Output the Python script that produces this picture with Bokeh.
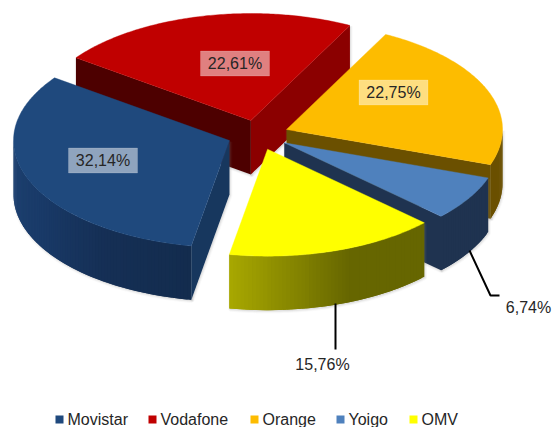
import math
from bokeh.plotting import figure
from bokeh.models import Range1d
from bokeh.core.properties import value
from bokeh.embed import file_html
from bokeh.resources import INLINE

# ---- data ----
operators = ["Movistar", "Vodafone", "Orange", "Yoigo", "OMV"]
shares = [32.14, 22.61, 22.75, 6.74, 15.76]
share_labels = ["32,14%", "22,61%", "22,75%", "6,74%", "15,76%"]

# ---- styles ----
FONT = value("Liberation Sans")
TEXT = "#262626"
top_colors = ["#1f497d", "#c00000", "#fdbc00", "#4f81bd", "#ffff00"]
# colour of radial faces
start_wall = ["#17375e", "#4d0000", None, None, None]
end_wall = [None, "#8b0000", "#6b5000", "#1f3350", None]
# outer wall shading: list of (angle, colour) stops
outer_stops = [
    [(190, "#132c4e"), (215, "#152f55"), (240, "#193a68"), (270, "#1e4272")],
    [(0, "#8b0000"), (360, "#8b0000")],
    [(0, "#6b5000"), (360, "#6b5000")],
    [(0, "#1f3350"), (360, "#1f3350")],
    [(133, "#666600"), (158, "#666600"), (190, "#a8a800")],
]

# ---- pie geometry (page pixels) ----
CX, CY = 257.5, 134.5
RX, RY = 216.0, 107.0
EX, EY = 30.7, 14.9
DEPTH = 54.0
FIRST_ANGLE = 190.2
DRAW_ORDER = [1, 2, 3, 4, 0]

W, H = 553, 427
p = figure(width=W, height=H, output_backend="svg", toolbar_location=None,
           x_range=Range1d(0, W), y_range=Range1d(H, 0),
           x_axis_type=None, y_axis_type=None, min_border=0,
           background_fill_color="white", border_fill_color="white")
p.outline_line_color = None
p.grid.visible = False


def hexrgb(c):
    return [int(c[i:i + 2], 16) for i in (1, 3, 5)]


def shade(stops, a):
    if a <= stops[0][0]:
        return stops[0][1]
    for (a0, c0), (a1, c1) in zip(stops, stops[1:]):
        if a <= a1:
            t = (a - a0) / (a1 - a0)
            r = [round(u + (v - u) * t) for u, v in zip(hexrgb(c0), hexrgb(c1))]
            return "#%02x%02x%02x" % tuple(r)
    return stops[-1][1]


def shadow(xs, ys):
    for w, al in ((4.0, 0.05), (2.0, 0.09)):
        p.patch([x + 0.8 for x in xs], [y + 1.2 for y in ys], fill_color="#808080",
                fill_alpha=al, line_color="#808080", line_alpha=al, line_width=w)


def draw_slice(i, a0, a1):
    mid = math.radians((a0 + a1) / 2)
    ax = CX + EX * math.sin(mid)
    ay = CY - EY * math.cos(mid)

    def rim(a):
        t = math.radians(a)
        return ax + RX * math.sin(t), ay - RY * math.cos(t)

    n = max(4, int((a1 - a0) * 1.5))
    angles = [a0 + (a1 - a0) * k / n for k in range(n + 1)]
    rim_pts = [rim(a) for a in angles]

    walls = []
    sx, sy = rim(a0)
    ex, ey = rim(a1)
    if start_wall[i]:
        walls.append(([ax, sx, sx, ax], [ay, sy, sy + DEPTH, ay + DEPTH], start_wall[i]))
    if end_wall[i]:
        walls.append(([ax, ex, ex, ax], [ay, ey, ey + DEPTH, ay + DEPTH], end_wall[i]))

    # outer wall: front half only (90 to 270 degrees)
    lo, hi = max(a0, 90.0), min(a1, 270.0)
    strips = []
    if hi > lo:
        m = max(2, int(hi - lo))
        cuts = [lo + (hi - lo) * k / m for k in range(m + 1)]
        top = [rim(c) for c in cuts]
        shadow([q[0] for q in top] + [q[0] for q in reversed(top)],
               [q[1] for q in top] + [q[1] + DEPTH for q in reversed(top)])
        for k, (c0, c1) in enumerate(zip(cuts, cuts[1:])):
            # each strip runs a little under the next one, so no seams show
            c2 = min(hi, c1 + 1.0)
            x0, y0 = rim(c0)
            x1, y1 = rim(c2)
            strips.append(([x0, x1, x1, x0], [y0, y1, y1 + DEPTH, y0 + DEPTH],
                           shade(outer_stops[i], (c0 + c1) / 2)))

    for (xs, ys, _) in walls:
        shadow(xs, ys)
    for (xs, ys, c) in strips + walls:
        p.patch(xs, ys, fill_color=c, line_color=None)

    p.patch([ax] + [q[0] for q in rim_pts], [ay] + [q[1] for q in rim_pts],
            fill_color=top_colors[i], line_color=top_colors[i], line_width=0.4)


starts = []
acc = FIRST_ANGLE
for s in shares:
    starts.append(acc % 360)
    acc += s * 3.6
for i in DRAW_ORDER:
    draw_slice(i, starts[i], starts[i] + shares[i] * 3.6)

# ---- inside labels with translucent boxes ----
inside = {0: (102.5, 160), 1: (234.5, 63), 2: (393, 92)}
for i, (x, y) in inside.items():
    p.quad(left=x - 34.5, right=x + 34.5, top=y - 12.5, bottom=y + 12.5,
           fill_color="white", fill_alpha=0.5, line_color="white", line_alpha=0.15)
    p.text(x=[x], y=[y], text=[share_labels[i]], text_font=FONT, text_font_size="16px",
           text_color=TEXT, text_align="center", text_baseline="middle")

# ---- outside labels and leaders ----
p.line([469, 490, 499], [250, 295, 295], line_color="black", line_width=2)
p.line([335, 335], [303, 349], line_color="black", line_width=2)
p.text(x=[528], y=[307], text=[share_labels[3]], text_font=FONT, text_font_size="16px",
       text_color=TEXT, text_align="center", text_baseline="middle")
p.text(x=[322], y=[364], text=[share_labels[4]], text_font=FONT, text_font_size="16px",
       text_color=TEXT, text_align="center", text_baseline="middle")

# ---- legend ----
legend_square_x = [55, 148, 250, 336, 409]
LEGEND_Y = 419
for name, col, x in zip(operators, top_colors, legend_square_x):
    p.quad(left=x, right=x + 8, top=LEGEND_Y - 4, bottom=LEGEND_Y + 4,
           fill_color=col, line_color=None)
    p.text(x=[x + 12], y=[LEGEND_Y], text=[name], text_font=FONT, text_font_size="16px",
           text_color=TEXT, text_align="left", text_baseline="middle")

open("out.html", "w").write(file_html(p, INLINE))
